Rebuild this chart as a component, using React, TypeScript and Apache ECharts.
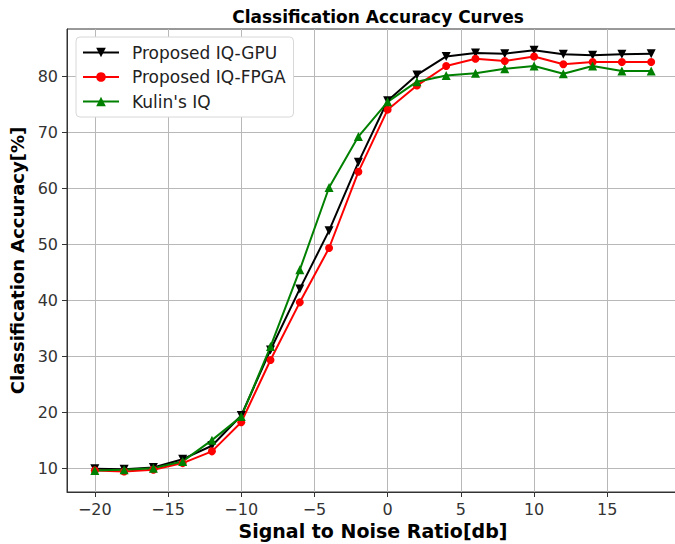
import React, { useEffect, useRef } from "react";
import * as echarts from "echarts";

const snr = [-20, -18, -16, -14, -12, -10, -8, -6, -4, -2, 0, 2, 4, 6, 8, 10, 12, 14, 16, 18];
const gpu = [9.9, 9.8, 10.1, 11.6, 14.0, 19.4, 31.1, 42.0, 52.4, 64.6, 75.6, 80.2, 83.5, 84.1, 84.0, 84.6, 83.9, 83.7, 83.9, 84.0];
const fpga = [9.6, 9.4, 9.7, 10.9, 13.0, 18.2, 29.3, 39.6, 49.3, 62.9, 74.0, 78.3, 81.8, 83.1, 82.7, 83.5, 82.1, 82.5, 82.5, 82.5];
const kulin = [9.6, 9.7, 10.0, 11.2, 15.0, 19.2, 31.7, 45.4, 60.1, 69.2, 75.4, 79.0, 80.1, 80.5, 81.3, 81.8, 80.4, 81.8, 80.9, 80.9];
const xTicks = [-20, -15, -10, -5, 0, 5, 10, 15];
const yTicks = [10, 20, 30, 40, 50, 60, 70, 80];

const FONT = "DejaVu Sans";

export default function App() {
  const ref = useRef<HTMLDivElement>(null);
  useEffect(() => {
    if (!ref.current) return;
    const chart = echarts.init(ref.current, undefined, { renderer: "svg" });
    const mk = (arr: number[]) => snr.map((x, i) => [x, arr[i]]);
    chart.setOption({
      animation: false,
      backgroundColor: "#ffffff",
      textStyle: { fontFamily: FONT },
      title: {
        text: "Classification Accuracy Curves",
        left: 373,
        textAlign: "center",
        top: 3,
        textStyle: { fontFamily: FONT, fontSize: 17, fontWeight: "bold", color: "#000" },
      },
      legend: {
        orient: "vertical",
        left: 76,
        top: 37,
        padding: [7, 8, 7, 6],
        backgroundColor: "#ffffff",
        borderColor: "#d8d8d8",
        borderWidth: 1,
        borderRadius: 4,
        itemWidth: 36,
        itemHeight: 12,
        itemGap: 7.5,
        textStyle: { fontFamily: FONT, fontSize: 17, color: "#222", lineHeight: 17, padding: [0, 0, 0, 8] },
        data: ["Proposed IQ-GPU", "Proposed IQ-FPGA", "Kulin's IQ"],
      },
      grid: {
        left: 67, right: -4, top: 29, bottom: 52,
        outerBoundsMode: "none",
        show: true, borderColor: "#333", borderWidth: 1,
      },
      xAxis: {
        type: "value",
        min: -21.9,
        max: 19.9,
        name: "Signal to Noise Ratio[db]",
        nameLocation: "middle",
        nameGap: 29,
        nameTextStyle: { fontFamily: FONT, fontSize: 19, fontWeight: "bold", color: "#000" },
        axisLine: { show: true, onZero: false, lineStyle: { color: "#333", width: 1 } },
        axisTick: { show: true, inside: false, length: 5, customValues: xTicks, lineStyle: { color: "#333" } },
        axisLabel: { customValues: xTicks, margin: 9, fontFamily: FONT, fontSize: 16, color: "#333",
          formatter: (v: number) => (v < 0 ? "\u2212" + Math.abs(v) : String(v)) },
        splitLine: { show: true, lineStyle: { color: "#b8b8b8", width: 1 } },
      },
      yAxis: {
        type: "value",
        min: 5.74,
        max: 88.4,
        name: "Classification Accuracy[%]",
        nameLocation: "middle",
        nameGap: 39,
        nameTextStyle: { fontFamily: FONT, fontSize: 18, fontWeight: "bold", color: "#000" },
        axisLine: { show: true, onZero: false, lineStyle: { color: "#333", width: 1 } },
        axisTick: { show: true, inside: false, length: 5, customValues: yTicks, lineStyle: { color: "#333" } },
        axisLabel: { customValues: yTicks, margin: 9, fontFamily: FONT, fontSize: 16, color: "#333" },
        splitLine: { show: true, lineStyle: { color: "#b8b8b8", width: 1 } },
      },
      series: [
        {
          name: "Proposed IQ-GPU",
          type: "line",
          data: mk(gpu),
          symbol: "triangle",
          symbolRotate: 180,
          symbolSize: 9,
          itemStyle: { color: "#000000" },
          lineStyle: { color: "#000000", width: 2 },
        },
        {
          name: "Proposed IQ-FPGA",
          type: "line",
          data: mk(fpga),
          symbol: "circle",
          symbolSize: 8,
          itemStyle: { color: "#ff0000" },
          lineStyle: { color: "#ff0000", width: 2 },
        },
        {
          name: "Kulin's IQ",
          type: "line",
          data: mk(kulin),
          symbol: "triangle",
          symbolSize: 9,
          itemStyle: { color: "#008000" },
          lineStyle: { color: "#008000", width: 2 },
        },
      ],
    });
    return () => chart.dispose();
  }, []);
  return <div ref={ref} style={{ position: "absolute", left: 0, top: 0, width: 675, height: 544 }} />;
}
